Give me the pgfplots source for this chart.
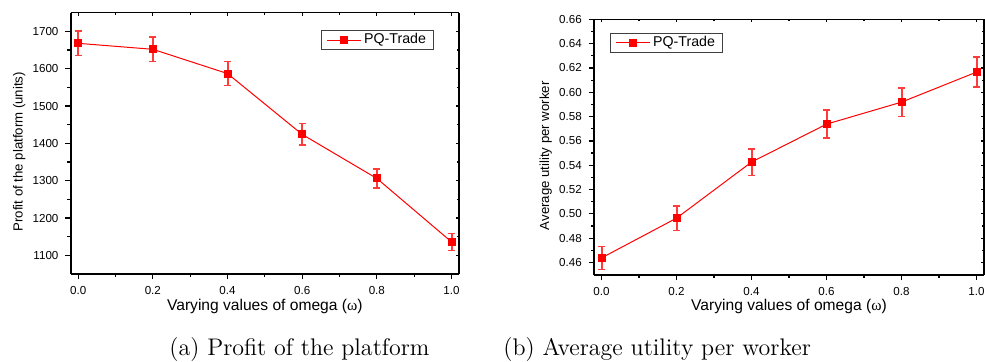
\documentclass[border=0pt]{standalone}
\usepackage{fontspec}
\usepackage{pgfplots}
\pgfplotsset{compat=1.18}
\newfontfamily\arial{Liberation Sans}
\newfontfamily\serifgreek{Liberation Serif}
\definecolor{errred}{RGB}{255,60,60}

\pgfplotstableread{
x y e
0.0 1668 33
0.2 1652 33
0.4 1587 32
0.6 1424 29
0.8 1306 26
1.0 1136 23
}\profit

\pgfplotstableread{
x y e
0.0 0.4638 0.0095
0.2 0.4965 0.0100
0.4 0.5426 0.0110
0.6 0.5738 0.0114
0.8 0.5919 0.0118
1.0 0.6166 0.0125
}\utility

\pgfplotsset{
  base/.style={
    scale only axis,
    xmin=-0.02, xmax=1.02,
    xtick={0,0.2,...,1.0},
    minor x tick num=1,
    minor y tick num=1,
    /pgf/number format/assume math mode=true,
    tick label style={font=\arial\fontsize{5.8}{7}\selectfont, black},
    x tick label style={/pgf/number format/.cd, fixed, fixed zerofill, precision=1},
    major tick length=2.6pt,
    minor tick length=1.6pt,
    tick style={black, line width=0.6pt},
  },
  mainax/.style={
    base,
    axis x line*=bottom, axis y line*=left,
    axis line style={-, line width=0.9pt, black},
    tick align=outside,
    xlabel style={font=\arial\fontsize{7.8}{9}\selectfont, anchor=center},
    ylabel style={font=\arial\fontsize{6.6}{8}\selectfont, anchor=center},
    legend style={draw=black!75, line width=0.6pt, font=\arial\fontsize{7.1}{8}\selectfont,
      inner xsep=2.5pt, inner ysep=0.3pt, legend cell align=left,
      nodes={inner sep=1.2pt}},
  },
  overax/.style={
    base,
    axis x line*=top, axis y line*=right,
    axis line style={-, line width=0.6pt, black},
    tick align=inside,
    major tick length=1.4pt,
    minor tick length=1.0pt,
    xticklabels={}, yticklabels={},
  },
  dataplot/.style={
    red, line width=0.5pt, mark=square*, mark size=1.75pt,
    mark options={solid, fill=red, draw=red},
    error bars/.cd, y dir=both, y explicit,
    error bar style={color=errred, line width=1pt},
    error mark options={color=errred, mark size=1.8pt, line width=0.8pt, rotate=90},
  },
}

\begin{document}
\begin{tikzpicture}
\path[use as bounding box] (0,0) rectangle (492.5pt,180.5pt);

% ---------- left panel ----------
\begin{axis}[mainax,
  at={(35.35pt,43.5pt)}, anchor=south west,
  width=194.15pt, height=130.65pt,
  ymin=1050, ymax=1750,
  ytick={1100,1200,...,1700},
  y tick label style={/pgf/number format/.cd, fixed, 1000 sep={}},
  xlabel={Varying values of omega ({\serifgreek ω})},
  ylabel={Profit of the platform (units)},
  xlabel style={at={(axis description cs:0.5,-0.1225)}},
  ylabel style={at={(axis description cs:-0.1324,0.468)}},
  legend style={at={(rel axis cs:0.9356,0.934)}, anchor=north east},
]
\addplot[dataplot] table[x=x, y=y, y error=e] {\profit};
\addlegendentry{PQ-Trade}
\end{axis}
\begin{axis}[overax,
  at={(35.35pt,43.5pt)}, anchor=south west,
  width=194.15pt, height=130.65pt,
  ymin=1050, ymax=1750,
  ytick={1100,1200,...,1700},
]
\end{axis}

% ---------- right panel ----------
\begin{axis}[mainax,
  at={(297pt,43.15pt)}, anchor=south west,
  width=195pt, height=127.7pt,
  ymin=0.45, ymax=0.66,
  ytick={0.46,0.48,...,0.661},
  y tick label style={/pgf/number format/.cd, fixed, fixed zerofill, precision=2},
  xlabel={Varying values of omega ({\serifgreek ω})},
  ylabel={Average utility per worker},
  xlabel style={at={(axis description cs:0.5,-0.1225)}},
  ylabel style={at={(axis description cs:-0.1238,0.4655)}},
  legend style={at={(rel axis cs:0.041,0.9475)}, anchor=north west},
]
\addplot[dataplot] table[x=x, y=y, y error=e] {\utility};
\addlegendentry{PQ-Trade}
\end{axis}
\begin{axis}[overax,
  at={(297pt,43.15pt)}, anchor=south west,
  width=195pt, height=127.7pt,
  ymin=0.45, ymax=0.66,
  ytick={0.46,0.48,...,0.661},
]
\end{axis}

% ---------- captions ----------
\node[anchor=base west, inner sep=0pt] at (84.5pt,3pt) {\fontsize{12}{14}\selectfont (a) Profit of the platform};
\node[anchor=base west, inner sep=0pt] at (251.5pt,3pt) {\fontsize{12}{14}\selectfont (b) Average utility per worker};
\end{tikzpicture}
\end{document}
